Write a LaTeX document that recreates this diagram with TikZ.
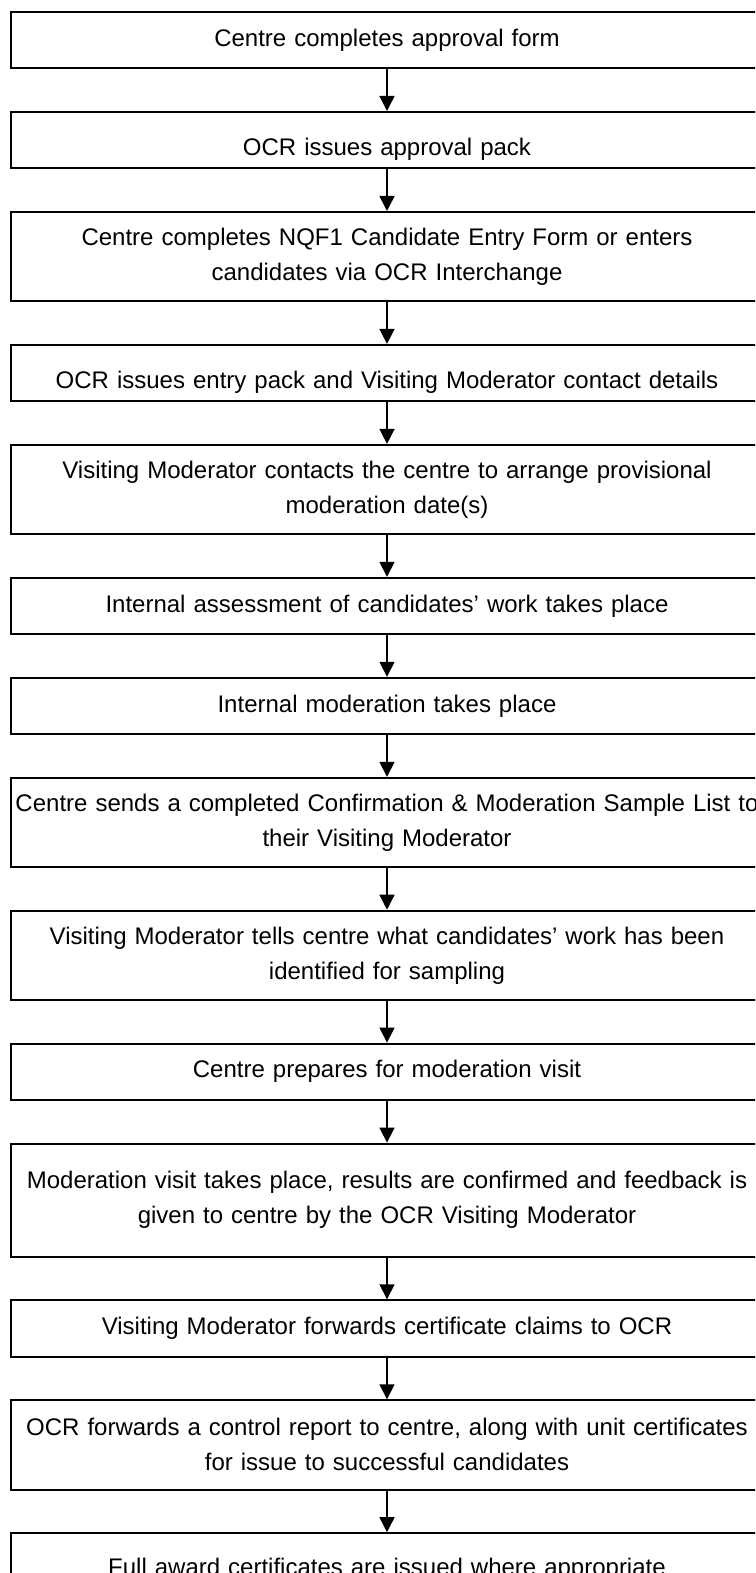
\documentclass[tikz,border=0pt]{standalone}
\usepackage{fontspec}
\setmainfont{Liberation Sans}
\usepackage{tikz}
\usetikzlibrary{positioning, arrows.meta}
\tikzset{
	stage/.append style={
		draw,
		line width=1pt,
		align=center,
		text width=376pt,
		inner xsep=0pt,
		outer sep=0pt,
		minimum height=28.15pt,
		font=\fontsize{12}{17.5}\selectfont
	},
	twoline/.append style={
		minimum height=44.6pt,
	},
	droptext/.append style={
		text height=18pt,
	},
	flow/.append style={
		line width=0.75pt,
		shorten >=0.5pt,
		-{Triangle[width=7.5pt,length=7.5pt]}
	}
}

\begin{document}
\begin{tikzpicture}[node distance=21.85pt]
	\useasboundingbox (0,0) rectangle (377.5pt,-786.5pt);
	\clip (0,0) rectangle (377.5pt,-786.5pt);
	% boxes run out past the right edge of the page
	\node[stage, anchor=north] (form) at (193.5pt,-6pt) {Centre completes approval form};
	\node[stage, droptext, below = of form] (pack) {OCR issues approval pack};
	\node[stage, twoline, below = of pack] (entry) {Centre completes NQF1 Candidate Entry Form or enters\\candidates via OCR Interchange};
	\node[stage, droptext, below = of entry] (contact) {OCR issues entry pack and Visiting Moderator contact details};
	\node[stage, twoline, below = of contact] (date) {Visiting Moderator contacts the centre to arrange provisional\\moderation date(s)};
	\node[stage, below = of date] (assess) {Internal assessment of candidates’ work takes place};
	\node[stage, below = of assess] (intmod) {Internal moderation takes place};
	\node[stage, twoline, below = of intmod] (sample) {Centre sends a completed Confirmation \& Moderation Sample List to\\their Visiting Moderator};
	\node[stage, twoline, below = of sample] (tells) {Visiting Moderator tells centre what candidates’ work has been\\identified for sampling};
	\node[stage, below = of tells] (prep) {Centre prepares for moderation visit};
	\node[stage, minimum height=56.5pt, below = of prep] (visit) {Moderation visit takes place, results are confirmed and feedback is\\given to centre by the OCR Visiting Moderator};
	\node[stage, below = of visit] (claims) {Visiting Moderator forwards certificate claims to OCR};
	\node[stage, twoline, below = of claims] (report) {OCR forwards a control report to centre, along with unit certificates\\for issue to successful candidates};
	\node[stage, minimum height=36pt, below = of report] (award) {Full award certificates are issued where appropriate};
	% Flow: one arrow between each pair
	\draw[flow] (form) -- (pack);
	\draw[flow] (pack) -- (entry);
	\draw[flow] (entry) -- (contact);
	\draw[flow] (contact) -- (date);
	\draw[flow] (date) -- (assess);
	\draw[flow] (assess) -- (intmod);
	\draw[flow] (intmod) -- (sample);
	\draw[flow] (sample) -- (tells);
	\draw[flow] (tells) -- (prep);
	\draw[flow] (prep) -- (visit);
	\draw[flow] (visit) -- (claims);
	\draw[flow] (claims) -- (report);
	\draw[flow] (report) -- (award);
\end{tikzpicture}
\end{document}
